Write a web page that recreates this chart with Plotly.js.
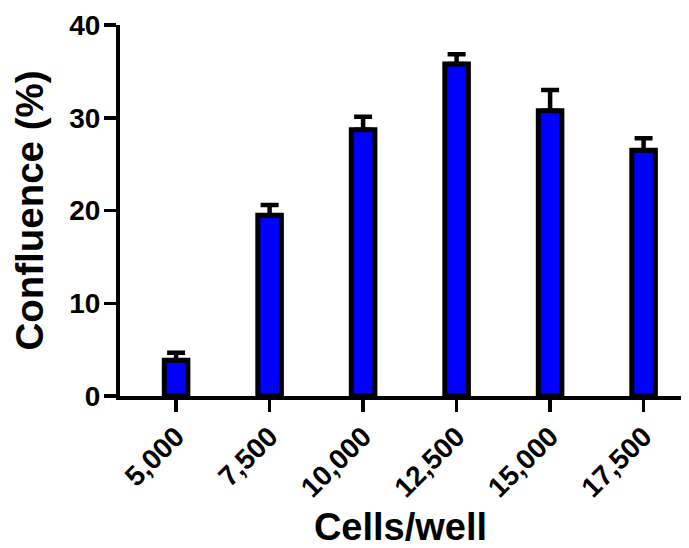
<!DOCTYPE html>
<html>
<head>
<meta charset="utf-8">
<script src="https://cdn.plot.ly/plotly-3.0.1.min.js"></script>
<style>
  html, body { margin: 0; padding: 0; background: #fff; }
  #chart { width: 689px; height: 548px; }
</style>
</head>
<body>
<div id="chart"></div>
<script>
const categories = ["5,000", "7,500", "10,000", "12,500", "15,000", "17,500"];
const confluence = [3.85, 19.5, 28.7, 35.8, 30.75, 26.5];
const errorUp = [0.8, 1.1, 1.4, 1.05, 2.25, 1.3];
const yTicks = [0, 10, 20, 30, 40];
const errorDown = categories.map(() => 0);

const FONT = "Liberation Sans, Arial, sans-serif";

const trace = {
  type: "bar",
  x: categories,
  y: confluence,
  width: 0.252,
  marker: { color: "#0000ff", line: { color: "#000000", width: 5 } },
  error_y: {
    type: "data",
    symmetric: false,
    array: errorUp,
    arrayminus: errorDown,
    color: "#000000",
    thickness: 4.5,
    width: 9
  },
  hoverinfo: "none"
};

const layout = {
  width: 689,
  height: 548,
  margin: { l: 120, r: 8, t: 25, b: 151.7, pad: 0 },
  paper_bgcolor: "#ffffff",
  plot_bgcolor: "#ffffff",
  showlegend: false,
  font: { family: FONT, color: "#000000" },
  xaxis: {
    type: "category",
    range: [-0.6, 5.4],
    showgrid: false,
    zeroline: false,
    showline: true,
    linecolor: "#000000",
    linewidth: 4,
    ticks: "outside",
    ticklen: 12,
    tickwidth: 3.5,
    tickcolor: "#000000",
    tickangle: -45,
    ticklabelstandoff: -3,
    tickfont: { family: FONT, size: 28, weight: "bold", color: "#000000" },
    title: { text: "Cells/well", font: { family: FONT, size: 38, weight: "bold", color: "#000000" }, standoff: 14 }
  },
  yaxis: {
    range: [0, 40],
    tickvals: yTicks,
    ticktext: yTicks.map(String),
    showgrid: false,
    zeroline: false,
    showline: true,
    linecolor: "#000000",
    linewidth: 4,
    ticks: "outside",
    ticklen: 12,
    tickwidth: 3.5,
    tickcolor: "#000000",
    ticklabelstandoff: -2,
    tickfont: { family: FONT, size: 28, weight: "bold", color: "#000000" },
    title: { text: "Confluence (%)", font: { family: FONT, size: 38.5, weight: "bold", color: "#000000" }, standoff: 15 }
  }
};

Plotly.newPlot("chart", [trace], layout, { displayModeBar: false, staticPlot: true });
</script>
</body>
</html>
